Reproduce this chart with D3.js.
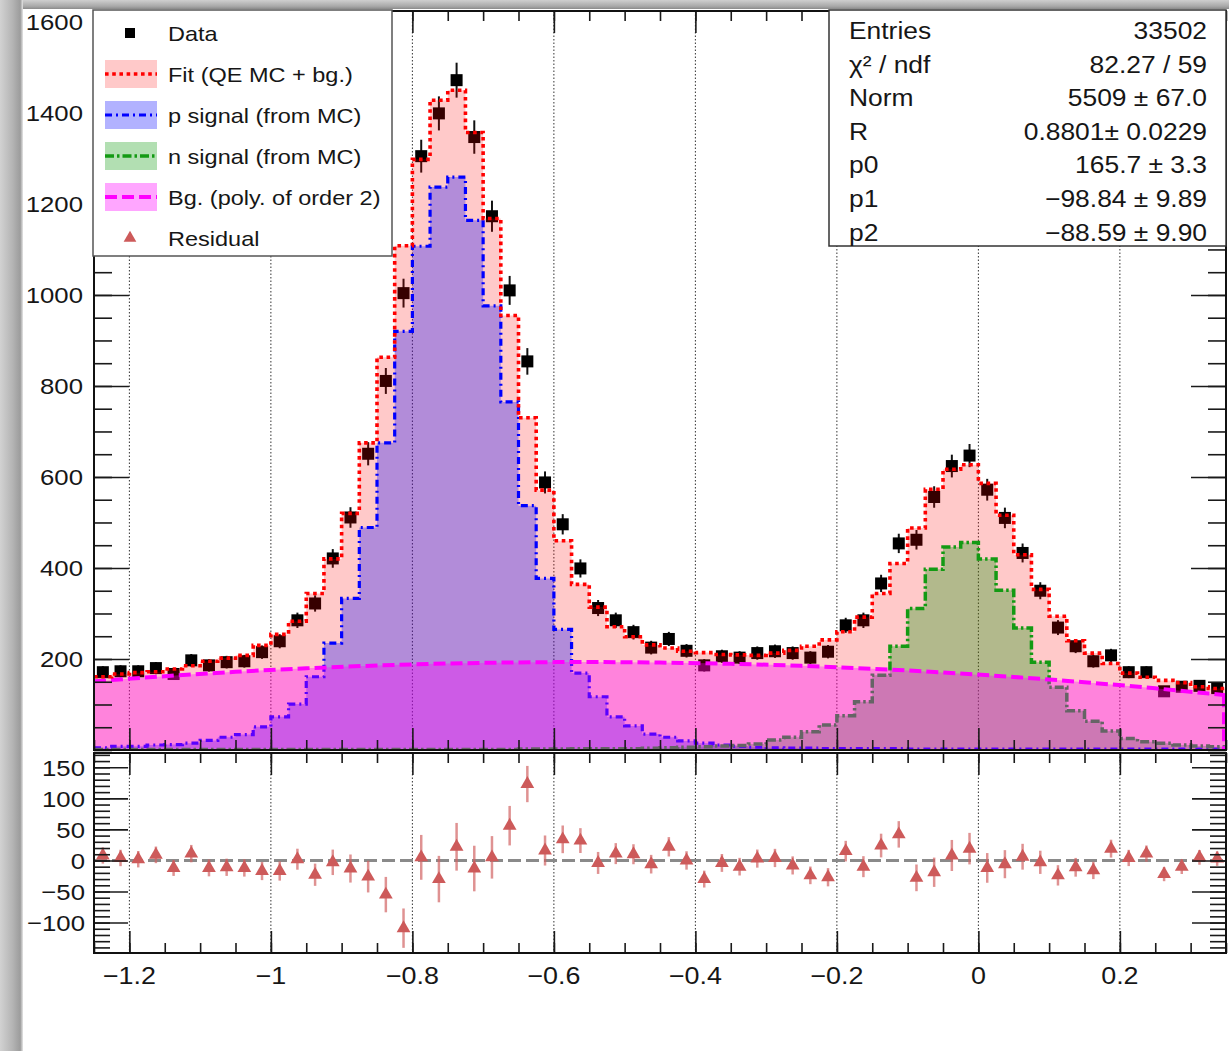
<!DOCTYPE html>
<html><head><meta charset="utf-8">
<script src="https://cdn.jsdelivr.net/npm/d3@7"></script>
<style>
body{margin:0;background:#fff;}
text{font-family:"Liberation Sans",Arial,Helvetica,sans-serif;fill:#161616;}
</style>
</head><body>
<svg id="c" width="1229" height="1051"></svg>
<script>
// ---------------- DATA ----------------
const binEdges = [-1.250,-1.225,-1.200,-1.175,-1.150,-1.125,-1.100,-1.075,-1.050,-1.025,
  -1.000,-0.975,-0.950,-0.925,-0.900,-0.875,-0.850,-0.825,-0.800,-0.775,
  -0.750,-0.725,-0.700,-0.675,-0.650,-0.625,-0.600,-0.575,-0.550,-0.525,
  -0.500,-0.475,-0.450,-0.425,-0.400,-0.375,-0.350,-0.325,-0.300,-0.275,
  -0.250,-0.225,-0.200,-0.175,-0.150,-0.125,-0.100,-0.075,-0.050,-0.025,
  0.000,0.025,0.050,0.075,0.100,0.125,0.150,0.175,0.200,0.225,
  0.250,0.275,0.300,0.325,0.350];

const dataCounts = [171,173,173,180,167,197,186,193,195,215,
  239,285,322,421,511,651,811,1004,1305,1399,
  1472,1347,1173,1010,854,588,496,399,312,285,
  259,225,244,218,186,206,203,213,217,213,
  203,216,274,285,366,454,462,556,624,647,
  572,510,433,350,269,228,195,208,171,171,
  129,139,141,136];

const dataErrors = [13.1,13.2,13.2,13.4,12.9,14.0,13.6,13.9,14.0,14.7,
  15.5,16.9,17.9,20.5,22.6,25.5,28.5,31.7,36.1,37.4,
  38.4,36.7,34.2,31.8,29.2,24.2,22.3,20.0,17.7,16.9,
  16.1,15.0,15.6,14.8,13.6,14.4,14.2,14.6,14.7,14.6,
  14.2,14.7,16.6,16.9,19.1,21.3,21.5,23.6,25.0,25.4,
  23.9,22.6,20.8,18.7,16.4,15.1,14.0,14.4,13.1,13.1,
  11.4,11.8,11.9,11.7];

const fitTotal = [161,167,170,172,178,185,195,202,208,230,
  254,283,344,420,520,675,863,1108,1298,1428,
  1450,1357,1168,955,730,571,460,364,314,271,
  249,231,224,217,214,210,209,208,213,219,
  228,242,260,292,344,410,488,573,617,627,
  586,516,429,353,294,240,213,190,169,160,
  153,148,139,135];

const pSignal = [5,8,8,11,12,15,21,28,34,51,
  73,101,161,235,333,489,675,920,1107,1237,
  1259,1164,976,765,537,377,265,169,117,73,
  53,35,28,20,15,11,8,6,5,4,
  4,3,3,3,3,3,2,2,2,2,
  2,2,2,2,2,2,2,2,2,2,
  2,2,2,2];

const nSignal = [1,1,1,1,1,1,1,1,1,1,
  1,1,1,1,1,1,1,1,1,1,
  1,1,1,1,2,2,2,3,3,3,
  3,4,5,6,7,9,10,13,22,28,
  40,55,75,106,164,228,311,397,446,456,
  420,351,268,193,138,86,63,42,25,18,
  15,11,9,7];

const bgX = [-1.25,-1.15,-1.05,-0.95,-0.85,-0.75,-0.65,-0.55,-0.45,-0.35,-0.25,-0.15,-0.05,0.05,0.15,0.25,0.35];
const bgY = [150.8,162.2,171.8,179.6,185.7,190.0,192.5,193.3,192.2,189.4,184.9,178.5,170.4,160.5,148.9,135.5,120.3];

const residuals = [8,4,2,9,-12,11,-12,-11,-12,-17,
  -17,2,-23,-3,-13,-26,-55,-109,5,-30,
  22,-13,5,56,123,16,34,32,-4,11,
  10,-6,22,0,-30,-4,-10,3,4,-8,
  -24,-27,15,-10,24,42,-28,-19,8,19,
  -12,-6,6,-3,-24,-11,-16,19,4,11,
  -22,-10,5,3];

const xMajorTicks = [-1.2,-1.0,-0.8,-0.6,-0.4,-0.2,0.0,0.2];
const xTickLabels = ['\u22121.2','\u22121','\u22120.8','\u22120.6','\u22120.4','\u22120.2','0','0.2'];
const yTopTicks = [200,400,600,800,1000,1200,1400,1600];
const yTopLabels = ['200','400','600','800','1000','1200','1400','1600'];
const yResTicks = [-100,-50,0,50,100,150];
const yResLabels = ['\u2212100','\u221250','0','50','100','150'];

const legendLabels = ['Data','Fit (QE MC + bg.)','p signal (from MC)','n signal (from MC)','Bg. (poly. of order 2)','Residual'];
const statNames = ['Entries','\u03c7\u00b2 / ndf','Norm','R','p0','p1','p2'];
const statValues = ['33502','82.27 / 59','5509 \u00b1 67.0','0.8801\u00b1 0.0229','165.7 \u00b1 3.3','\u221298.84 \u00b1 9.89','\u221288.59 \u00b1 9.90'];

// ---------------- STYLE ----------------
const C = {
  fitFill:'rgba(255,0,0,0.21)', fitLine:'#ff0000',
  pFill:'rgba(0,0,255,0.30)', pLine:'#0000ff',
  nFill:'rgba(0,150,0,0.30)', nLine:'#139a13',
  bgFill:'rgba(255,0,255,0.35)', bgLine:'#ff00ff',
  res:'#cd5a5a', resErr:'rgba(210,100,100,0.7)'
};
const SX = 1.12; // horizontal text stretch

const svg = d3.select('#c');
svg.append('rect').attr('width',1229).attr('height',1051).attr('fill','#fff');

const defs = svg.append('defs');
const lg = defs.append('linearGradient').attr('id','lband').attr('x1',0).attr('x2',1).attr('y1',0).attr('y2',0);
[['0%','#d2d2d2'],['55%','#b4b4b4'],['88%','#9c9c9c'],['100%','#e6e6e6']].forEach(s=>lg.append('stop').attr('offset',s[0]).attr('stop-color',s[1]));
const tgr = defs.append('linearGradient').attr('id','tband').attr('x1',0).attr('x2',0).attr('y1',0).attr('y2',1);
[['0%','#cfcfcf'],['70%','#a8a8a8'],['100%','#8a8a8a']].forEach(s=>tgr.append('stop').attr('offset',s[0]).attr('stop-color',s[1]));

// scales
const X0 = 94, X1 = 1226, TT = 11, TB = 750, RT = 753, RB = 953;
const x = d3.scaleLinear().domain([binEdges[0], binEdges[binEdges.length-1]]).range([X0, X1]);
const yTop = d3.scaleLinear().domain([0, 1624]).range([TB, TT]);
const yRes = d3.scaleLinear().domain([-149, 173]).range([RB, RT]);

defs.append('clipPath').attr('id','clipTop').append('rect').attr('x',X0).attr('y',TT).attr('width',X1-X0).attr('height',TB-TT);
defs.append('clipPath').attr('id','clipRes').append('rect').attr('x',X0).attr('y',RT).attr('width',X1-X0).attr('height',RB-RT);

function txt(g, px, py, s, anchor, size, scale){
  return g.append('text').attr('transform',`translate(${px},${py}) scale(${scale||SX},1)`)
    .attr('text-anchor',anchor).attr('font-size',size).text(s);
}

const centers = dataCounts.map((d,i)=>(binEdges[i]+binEdges[i+1])/2);
function stepPts(vals){ return binEdges.map((e,i)=>({x:e, v:vals[Math.min(i, vals.length-1)]})); }

// ---------------- UPPER PAD ----------------
const topG = svg.append('g');
const topC = topG.append('g').attr('clip-path','url(#clipTop)');

topC.selectAll('line.grid').data(xMajorTicks).join('line').attr('class','grid')
  .attr('x1',d=>x(d)).attr('x2',d=>x(d)).attr('y1',TT).attr('y2',TB)
  .attr('stroke','#333').attr('stroke-width',1).attr('stroke-dasharray','1.5,2');

// data points (drawn under the fills)
const dp = topC.append('g');
dp.selectAll('line').data(dataCounts).join('line')
  .attr('x1',(d,i)=>x(centers[i])).attr('x2',(d,i)=>x(centers[i]))
  .attr('y1',(d,i)=>yTop(d-dataErrors[i])).attr('y2',(d,i)=>yTop(d+dataErrors[i]))
  .attr('stroke','#111').attr('stroke-width',2);
dp.selectAll('rect').data(dataCounts).join('rect')
  .attr('x',(d,i)=>x(centers[i])-6).attr('y',d=>yTop(d)-6)
  .attr('width',12).attr('height',12).attr('fill','#000');

const stepArea = d3.area().x(d=>x(d.x)).y0(yTop(0)).y1(d=>yTop(d.v)).curve(d3.curveStepAfter);
const stepLine = d3.line().x(d=>x(d.x)).y(d=>yTop(d.v)).curve(d3.curveStepAfter);

topC.append('path').attr('d',stepArea(stepPts(fitTotal))).attr('fill',C.fitFill);
topC.append('path').attr('d',stepArea(stepPts(pSignal))).attr('fill',C.pFill);
topC.append('path').attr('d',stepArea(stepPts(nSignal))).attr('fill',C.nFill);
topC.append('path').attr('d',stepLine(stepPts(pSignal))).attr('fill','none')
  .attr('stroke',C.pLine).attr('stroke-width',3.2).attr('stroke-dasharray','7,4,2,4');
topC.append('path').attr('d',stepLine(stepPts(nSignal))).attr('fill','none')
  .attr('stroke',C.nLine).attr('stroke-width',3.5).attr('stroke-dasharray','9,3,2.5,3');

// background polynomial
const bgPts = bgX.map((v,i)=>({x:v, v:bgY[i]}));
topC.append('path').attr('d', d3.area().x(d=>x(d.x)).y0(yTop(0)).y1(d=>yTop(d.v)).curve(d3.curveNatural)(bgPts))
  .attr('fill',C.bgFill);
topC.append('path').attr('d', d3.line().x(d=>x(d.x)).y(d=>yTop(d.v)).curve(d3.curveNatural)(bgPts))
  .attr('fill','none').attr('stroke',C.bgLine).attr('stroke-width',4).attr('stroke-dasharray','12,5');
topC.append('line').attr('x1',x(bgX[bgX.length-1])-2).attr('x2',x(bgX[bgX.length-1])-2)
  .attr('y1',yTop(bgY[bgY.length-1])).attr('y2',yTop(0))
  .attr('stroke',C.bgLine).attr('stroke-width',4).attr('stroke-dasharray','12,5');

// total fit line
topC.append('path').attr('d',stepLine(stepPts(fitTotal))).attr('fill','none')
  .attr('stroke',C.fitLine).attr('stroke-width',3.6).attr('stroke-dasharray','3.6,3.6');

// axes / ticks
function ticks(g, axisGen, values, size){
  g.call(axisGen.tickValues(values).tickSize(size).tickFormat(''));
  g.select('.domain').remove();
  g.selectAll('line').attr('stroke','#1a1a1a').attr('stroke-width',1.6);
}
const xMinor = d3.range(-1.25, 0.3501, 0.05);
const yTopMinor = d3.range(0, 1601, 50);
ticks(topG.append('g').attr('transform',`translate(0,${TB})`), d3.axisBottom(x), xMinor, -10);
ticks(topG.append('g').attr('transform',`translate(0,${TB})`), d3.axisBottom(x), xMajorTicks, -22);
ticks(topG.append('g').attr('transform',`translate(0,${TT})`), d3.axisTop(x), xMinor, -10);
ticks(topG.append('g').attr('transform',`translate(0,${TT})`), d3.axisTop(x), xMajorTicks, -22);
ticks(topG.append('g').attr('transform',`translate(${X0},0)`), d3.axisLeft(yTop), yTopMinor, -18);
ticks(topG.append('g').attr('transform',`translate(${X0},0)`), d3.axisLeft(yTop), yTopTicks, -35);
ticks(topG.append('g').attr('transform',`translate(${X1},0)`), d3.axisRight(yTop), yTopMinor, -18);
ticks(topG.append('g').attr('transform',`translate(${X1},0)`), d3.axisRight(yTop), yTopTicks, -35);
topG.append('rect').attr('x',X0).attr('y',TT).attr('width',X1-X0).attr('height',TB-TT)
  .attr('fill','none').attr('stroke','#111').attr('stroke-width',2);
yTopTicks.forEach((v,i)=>txt(topG, 83, yTop(v)+8.5, yTopLabels[i], 'end', 23));

// ---------------- RESIDUAL PAD ----------------
const resG = svg.append('g');
const resC = resG.append('g').attr('clip-path','url(#clipRes)');
resC.selectAll('line.grid').data(xMajorTicks).join('line').attr('class','grid')
  .attr('x1',d=>x(d)).attr('x2',d=>x(d)).attr('y1',RT).attr('y2',RB)
  .attr('stroke','#333').attr('stroke-width',1).attr('stroke-dasharray','1.5,2');
resC.append('line').attr('x1',X0).attr('x2',X1).attr('y1',yRes(0)).attr('y2',yRes(0))
  .attr('stroke','#8a8a8a').attr('stroke-width',3).attr('stroke-dasharray','13,5');
resC.selectAll('line.e').data(residuals).join('line').attr('class','e')
  .attr('x1',(d,i)=>x(centers[i])).attr('x2',(d,i)=>x(centers[i]))
  .attr('y1',(d,i)=>yRes(d-dataErrors[i])).attr('y2',(d,i)=>yRes(d+dataErrors[i]))
  .attr('stroke',C.resErr).attr('stroke-width',2.5);
const tri = d3.symbol().type(d3.symbolTriangle).size(82);
resC.selectAll('path.t').data(residuals).join('path').attr('class','t')
  .attr('d',tri).attr('transform',(d,i)=>`translate(${x(centers[i])},${yRes(d)})`)
  .attr('fill',C.res);

const yResMinor = d3.range(-140, 171, 10);
ticks(resG.append('g').attr('transform',`translate(0,${RB})`), d3.axisBottom(x), xMinor, -10);
ticks(resG.append('g').attr('transform',`translate(0,${RB})`), d3.axisBottom(x), xMajorTicks, -22);
ticks(resG.append('g').attr('transform',`translate(0,${RT})`), d3.axisTop(x), xMinor, -10);
ticks(resG.append('g').attr('transform',`translate(0,${RT})`), d3.axisTop(x), xMajorTicks, -22);
ticks(resG.append('g').attr('transform',`translate(${X0},0)`), d3.axisLeft(yRes), yResMinor, -16);
ticks(resG.append('g').attr('transform',`translate(${X0},0)`), d3.axisLeft(yRes), yResTicks, -34);
ticks(resG.append('g').attr('transform',`translate(${X1},0)`), d3.axisRight(yRes), yResMinor, -16);
ticks(resG.append('g').attr('transform',`translate(${X1},0)`), d3.axisRight(yRes), yResTicks, -34);
resG.append('rect').attr('x',X0).attr('y',RT).attr('width',X1-X0).attr('height',RB-RT)
  .attr('fill','none').attr('stroke','#111').attr('stroke-width',2);
yResTicks.forEach((v,i)=>txt(resG, 85, yRes(v)+8.5, yResLabels[i], 'end', 23));
xMajorTicks.forEach((v,i)=>txt(resG, x(v), 984, xTickLabels[i], 'middle', 24));

// ---------------- LEGEND ----------------
const leg = svg.append('g');
leg.append('rect').attr('x',93).attr('y',10).attr('width',299).attr('height',246)
  .attr('fill','#fff').attr('stroke','#555').attr('stroke-width',1.5);
const rowY = [33,74,115,156,197,238];
const legStyles = [
  null,
  {fill:C.fitFill, stroke:C.fitLine, w:3.6, dash:'3.6,3.6'},
  {fill:C.pFill, stroke:C.pLine, w:3.2, dash:'7,4,2,4'},
  {fill:C.nFill, stroke:C.nLine, w:3.5, dash:'9,3,2.5,3'},
  {fill:C.bgFill, stroke:C.bgLine, w:4, dash:'12,5'},
  null
];
legStyles.forEach((s,i)=>{
  if(!s) return;
  leg.append('rect').attr('x',105).attr('y',rowY[i]-14).attr('width',52).attr('height',28).attr('fill',s.fill);
  leg.append('line').attr('x1',105).attr('x2',157).attr('y1',rowY[i]).attr('y2',rowY[i])
    .attr('stroke',s.stroke).attr('stroke-width',s.w).attr('stroke-dasharray',s.dash);
});
leg.append('rect').attr('x',125).attr('y',rowY[0]-5).attr('width',10).attr('height',10).attr('fill','#000');
leg.append('path').attr('d',d3.symbol().type(d3.symbolTriangle).size(70)()).attr('transform',`translate(130,${rowY[5]})`).attr('fill',C.res);
legendLabels.forEach((l,i)=>txt(leg, 168, rowY[i]+7.5, l, 'start', 21));

// ---------------- STATS BOX ----------------
const st = svg.append('g');
st.append('rect').attr('x',829).attr('y',10).attr('width',397).attr('height',236)
  .attr('fill','#fff').attr('stroke','#333').attr('stroke-width',1.5);
statNames.forEach((n,i)=>{
  const yy = 39 + i*33.6;
  txt(st, 849, yy, n, 'start', 24, 1.1);
  txt(st, 1207, yy, statValues[i], 'end', 24, 1.1);
});

// ---------------- OUTER FRAME BANDS ----------------
svg.append('rect').attr('x',0).attr('y',0).attr('width',1229).attr('height',9).attr('fill','url(#tband)');
svg.append('rect').attr('x',0).attr('y',0).attr('width',23).attr('height',1051).attr('fill','url(#lband)');
</script>
</body></html>
